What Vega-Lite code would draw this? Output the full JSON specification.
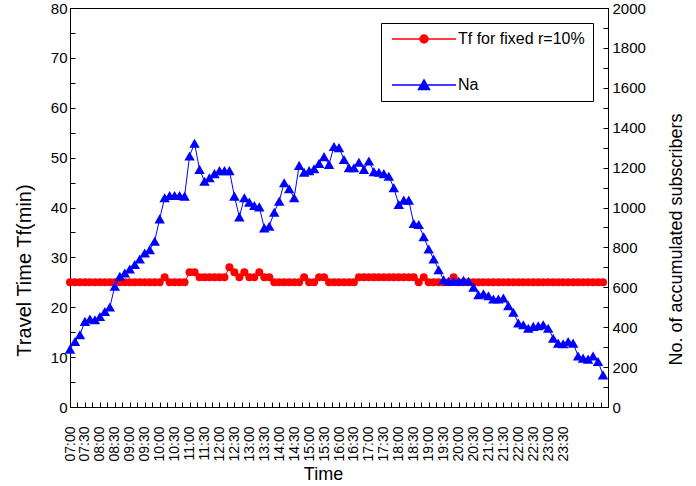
{
"$schema": "https://vega.github.io/schema/vega-lite/v6.json",
"width": 538, "height": 399,
"autosize": "none",
"padding": {"left": 70, "top": 8, "right": 88, "bottom": 79},
"background": "white",
"config": {"font": "Liberation Sans", "view": {"stroke": "black", "strokeWidth": 1},
  "axis": {"domainColor": "black", "tickColor": "black", "labelColor": "black", "titleColor": "black", "grid": false, "titleFontWeight": "normal", "domainWidth": 1, "tickWidth": 1}},
"data": {"values": [
{"m":0,"tf":25,"na":290},{"m":10,"tf":25,"na":328},{"m":20,"tf":25,"na":362},{"m":30,"tf":25,"na":429},{"m":40,"tf":25,"na":441},{"m":50,"tf":25,"na":437},
{"m":60,"tf":25,"na":454},{"m":70,"tf":25,"na":479},{"m":80,"tf":25,"na":501},{"m":90,"tf":25,"na":605},{"m":100,"tf":25,"na":655},{"m":110,"tf":25,"na":672},
{"m":120,"tf":25,"na":692},{"m":130,"tf":25,"na":714},{"m":140,"tf":25,"na":742},{"m":150,"tf":25,"na":772},{"m":160,"tf":25,"na":789},{"m":170,"tf":25,"na":831},
{"m":180,"tf":25,"na":943},{"m":190,"tf":26,"na":1049},{"m":200,"tf":25,"na":1060},{"m":210,"tf":25,"na":1060},{"m":220,"tf":25,"na":1060},{"m":230,"tf":25,"na":1057},
{"m":240,"tf":27,"na":1258},{"m":250,"tf":27,"na":1322},{"m":260,"tf":26,"na":1191},{"m":270,"tf":26,"na":1132},{"m":280,"tf":26,"na":1149},{"m":290,"tf":26,"na":1170},
{"m":300,"tf":26,"na":1185},{"m":310,"tf":26,"na":1185},{"m":320,"tf":28,"na":1185},{"m":330,"tf":27,"na":1057},{"m":340,"tf":26,"na":953},{"m":350,"tf":27,"na":1049},
{"m":360,"tf":26,"na":1027},{"m":370,"tf":26,"na":1010},{"m":380,"tf":27,"na":1003},{"m":390,"tf":26,"na":898},{"m":400,"tf":26,"na":906},{"m":410,"tf":25,"na":976},
{"m":420,"tf":25,"na":1032},{"m":430,"tf":25,"na":1124},{"m":440,"tf":25,"na":1094},{"m":450,"tf":25,"na":1049},{"m":460,"tf":25,"na":1211},{"m":470,"tf":26,"na":1177},
{"m":480,"tf":25,"na":1185},{"m":490,"tf":25,"na":1194},{"m":500,"tf":26,"na":1221},{"m":510,"tf":26,"na":1255},{"m":520,"tf":25,"na":1216},{"m":530,"tf":25,"na":1306},
{"m":540,"tf":25,"na":1300},{"m":550,"tf":25,"na":1241},{"m":560,"tf":25,"na":1199},{"m":570,"tf":25,"na":1199},{"m":580,"tf":26,"na":1227},{"m":590,"tf":26,"na":1191},
{"m":600,"tf":26,"na":1233},{"m":610,"tf":26,"na":1180},{"m":620,"tf":26,"na":1177},{"m":630,"tf":26,"na":1170},{"m":640,"tf":26,"na":1157},{"m":650,"tf":26,"na":1099},
{"m":660,"tf":26,"na":1015},{"m":670,"tf":26,"na":1037},{"m":680,"tf":26,"na":1037},{"m":690,"tf":26,"na":920},{"m":700,"tf":25,"na":915},{"m":710,"tf":26,"na":853},
{"m":720,"tf":25,"na":792},{"m":730,"tf":25,"na":742},{"m":740,"tf":25,"na":688},{"m":750,"tf":25,"na":638},{"m":760,"tf":25,"na":630},{"m":770,"tf":26,"na":630},
{"m":780,"tf":25,"na":630},{"m":790,"tf":25,"na":635},{"m":800,"tf":25,"na":630},{"m":810,"tf":25,"na":601},{"m":820,"tf":25,"na":563},{"m":830,"tf":25,"na":568},
{"m":840,"tf":25,"na":558},{"m":850,"tf":25,"na":541},{"m":860,"tf":25,"na":541},{"m":870,"tf":25,"na":546},{"m":880,"tf":25,"na":508},{"m":890,"tf":25,"na":475},
{"m":900,"tf":25,"na":421},{"m":910,"tf":25,"na":412},{"m":920,"tf":25,"na":395},{"m":930,"tf":25,"na":404},{"m":940,"tf":25,"na":407},{"m":950,"tf":25,"na":412},
{"m":960,"tf":25,"na":395},{"m":970,"tf":25,"na":345},{"m":980,"tf":25,"na":320},{"m":990,"tf":25,"na":317},{"m":1000,"tf":25,"na":328},{"m":1010,"tf":25,"na":320},
{"m":1020,"tf":25,"na":256},{"m":1030,"tf":25,"na":245},{"m":1040,"tf":25,"na":240},{"m":1050,"tf":25,"na":256},{"m":1060,"tf":25,"na":228},{"m":1070,"tf":25,"na":161}
]},
"encoding": {
  "x": {"field": "m", "type": "quantitative",
    "scale": {"domain": [0, 1080], "nice": false, "zero": false},
    "axis": {"title": "Time", "titleFontSize": 18, "titleX": 253, "titleY": 67, "titleBaseline": "middle", "titleAlign": "center",
      "labelFontSize": 14, "labelAngle": 270, "labelAlign": "right", "labelBaseline": "middle", "labelPadding": 24, "labelOverlap": false, "labelFlush": false,
      "tickSize": -5,
      "values": [0,15,30,45,60,75,90,105,120,135,150,165,180,195,210,225,240,255,270,285,300,315,330,345,360,375,390,405,420,435,450,465,480,495,510,525,540,555,570,585,600,615,630,645,660,675,690,705,720,735,750,765,780,795,810,825,840,855,870,885,900,915,930,945,960,975,990,1005,1020,1035,1050,1065,1080],
      "labelExpr": "datum.value % 30 == 0 && datum.value <= 990 ? timeFormat(datetime(2020, 0, 1, 7, datum.value), '%H:%M') : ''"}}
},
"layer": [
  {"encoding": {
     "y": {"field": "tf", "type": "quantitative", "scale": {"domain": [0, 80], "nice": false},
       "axis": {"orient": "left", "title": "Travel Time  Tf(min)", "titleFontSize": 20, "titleX": -46, "titleY": 262, "titleBaseline": "middle", "titleAlign": "center", "titleAngle": 270,
         "labelFontSize": 15, "labelPadding": 8, "tickSize": -5,
         "values": [0,5,10,15,20,25,30,35,40,45,50,55,60,65,70,75,80],
         "labelExpr": "datum.value % 10 == 0 ? datum.label : ''"}},
     "color": {"datum": "Tf for fixed r=10%",
       "scale": {"domain": ["Tf for fixed r=10%", "Na"], "range": ["#ff0000", "#0000ff"]},
       "legend": {"title": null, "orient": "top-right", "offset": 15, "strokeColor": "black", "fillColor": "white",
         "padding": 8, "rowPadding": 30, "labelFontSize": 16, "labelColor": "black", "symbolSize": 100, "symbolOffset": 27, "labelOffset": 26,
         "encode": {"symbols": {"update": {
           "shape": {"signal": "datum.value == 'Na' ? 'M-6.4,0H6.4M0,-1L1.1,0.9L-1.1,0.9Z' : 'M-6.4,0H6.4M-0.8,0A0.8,0.8 0 1,0 0.8,0A0.8,0.8 0 1,0 -0.8,0Z'"},
           "stroke": {"signal": "datum.value == 'Na' ? '#0000ff' : '#ff0000'"},
           "fill": {"signal": "datum.value == 'Na' ? '#0000ff' : '#ff0000'"}}}}}}
   },
   "layer": [
     {"mark": {"type": "line", "strokeWidth": 1}},
     {"mark": {"type": "point", "filled": true, "shape": "circle", "size": 64, "opacity": 1}}
   ]},
  {"encoding": {
     "y": {"field": "na", "type": "quantitative", "scale": {"domain": [0, 2000], "nice": false},
       "axis": {"orient": "right", "title": "No. of accumulated subscribers", "titleFontSize": 18, "titleX": 68, "titleY": 231, "titleBaseline": "middle", "titleAlign": "center", "titleAngle": 270,
         "labelFontSize": 15, "labelPadding": 9, "tickSize": -5, "format": "d",
         "values": [0,100,200,300,400,500,600,700,800,900,1000,1100,1200,1300,1400,1500,1600,1700,1800,1900,2000],
         "labelExpr": "datum.value % 200 == 0 ? datum.label : ''"}},
     "color": {"datum": "Na"}
   },
   "layer": [
     {"mark": {"type": "line", "strokeWidth": 1}},
     {"mark": {"type": "point", "filled": true, "shape": "triangle-up", "size": 110, "opacity": 1}}
   ]}
],
"resolve": {"scale": {"y": "independent"}}
}
